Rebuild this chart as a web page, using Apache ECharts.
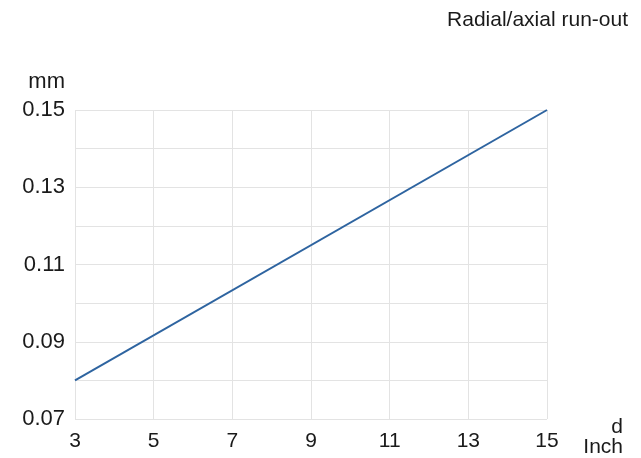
<!DOCTYPE html>
<html>
<head>
<meta charset="utf-8">
<script src="https://cdn.jsdelivr.net/npm/echarts@6/dist/echarts.min.js"></script>
<style>
  html, body { margin: 0; padding: 0; background: #fff; }
  #chart { width: 641px; height: 458px; }
</style>
</head>
<body>
<div id="chart"></div>
<script>
const diameters = [3, 15];
const runOut = [0.08, 0.15];
const xTicks = [3, 5, 7, 9, 11, 13, 15];
const yTicks = [0.07, 0.09, 0.11, 0.13, 0.15];

const chart = echarts.init(document.getElementById("chart"));
const textColor = "#1a1a1a";
const font = "Liberation Sans, Arial, sans-serif";

const option = {
  animation: false,
  title: {
    text: "Radial/axial run-out",
    right: 8,
    top: 5,
    textStyle: { color: textColor, fontSize: 21, fontWeight: "normal", fontFamily: font },
  },
  grid: { left: 75, right: 94, top: 110, bottom: 39 },
  xAxis: {
    type: "value",
    min: 3,
    max: 15,
    interval: 2,
    name: "d\nInch",
    nameLocation: "end",
    nameGap: 76,
    nameTextStyle: {
      color: textColor, fontSize: 21, fontFamily: font,
      align: "right", verticalAlign: "top", lineHeight: 20, padding: [-2, 0, 0, 0],
    },
    axisLine: { show: false },
    axisTick: { show: false },
    axisLabel: {
      color: textColor, fontSize: 21, fontFamily: font, margin: 12,
      formatter: (v) => (xTicks.includes(v) ? String(v) : ""),
    },
    splitLine: { lineStyle: { color: "#e3e3e3", width: 1 } },
  },
  yAxis: {
    type: "value",
    min: 0.07,
    max: 0.15,
    interval: 0.01,
    name: "mm",
    nameLocation: "end",
    nameGap: 17,
    nameTextStyle: { color: textColor, fontSize: 22, fontFamily: font, align: "right", padding: [0, 10, 0, 0] },
    axisLine: { show: false },
    axisTick: { show: false },
    axisLabel: {
      color: textColor, fontSize: 22, fontFamily: font, margin: 10,
      formatter: (v) => {
        const r = Math.round(v * 100) / 100;
        return yTicks.includes(r) ? r.toFixed(2) : "";
      },
    },
    splitLine: { lineStyle: { color: "#e3e3e3", width: 1 } },
  },
  graphic: [
    {
      type: "rect",
      left: 0,
      top: 95,
      z: 100,
      shape: { width: 22, height: 340 },
      style: { fill: "#fff" },
    },
  ],
  series: [
    {
      type: "line",
      data: diameters.map((d, i) => [d, runOut[i]]),
      showSymbol: false,
      lineStyle: { color: "#2e64a0", width: 2 },
    },
  ],
};

chart.setOption(option);
</script>
</body>
</html>
